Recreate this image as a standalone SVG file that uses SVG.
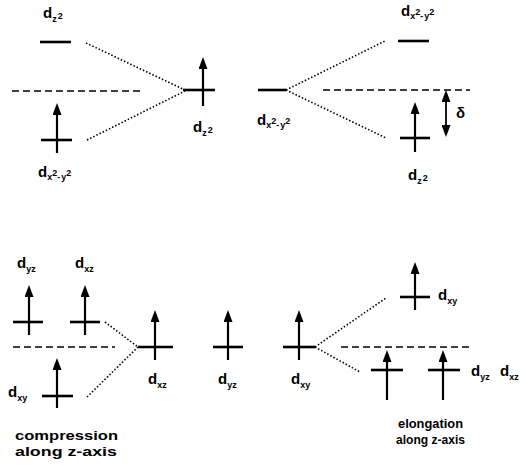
<svg xmlns="http://www.w3.org/2000/svg" width="526" height="476" viewBox="0 0 526 476">
<style>
.lv{stroke:#000;stroke-width:2.6;fill:none}
.ar{stroke:#000;stroke-width:2.2;fill:none;marker-end:url(#ah)}
.da{stroke:#000;stroke-width:1.6;stroke-dasharray:7 4;fill:none}
.dt{stroke:#000;stroke-width:1.6;stroke-dasharray:1.5 2;fill:none}
.d{font-family:"Liberation Sans",Arial,sans-serif;font-weight:bold;font-size:15px;fill:#000}
.s{font-size:9px}
.cap{font-family:"Liberation Sans",Arial,sans-serif;font-weight:bold;fill:#000}
</style>
<defs>
<marker id="ah" viewBox="0 0 12 9" refX="8" refY="4.5" markerWidth="12" markerHeight="9" markerUnits="userSpaceOnUse" orient="auto-start-reverse">
<path d="M0,0 L12,4.5 L0,9 z" fill="#000"/>
</marker>
</defs>

<g id="connectors">
<line class="da" x1="12" y1="91" x2="143" y2="91"/>
<line class="dt" x1="86" y1="43" x2="185" y2="90"/>
<line class="dt" x1="87" y1="140" x2="185" y2="91"/>
<line class="da" x1="323" y1="90" x2="470" y2="90"/>
<line class="dt" x1="286" y1="90" x2="385" y2="41"/>
<line class="dt" x1="286" y1="90" x2="386" y2="138"/>
<line class="da" x1="13" y1="347" x2="115" y2="347"/>
<line class="dt" x1="105" y1="322" x2="138" y2="347"/>
<line class="dt" x1="87" y1="397" x2="138" y2="347"/>
<line class="da" x1="341" y1="347" x2="471" y2="347"/>
<line class="dt" x1="315" y1="347" x2="386" y2="298"/>
<line class="dt" x1="315" y1="347" x2="360" y2="372"/>
</g>

<g id="tl-dz2">
<line class="lv" x1="40" y1="42" x2="71" y2="42"/>
<text class="d" x="43" y="18">d<tspan class="s" dy="4">z</tspan><tspan class="s" dx="1" dy="-3">2</tspan></text>
</g>
<g id="tl-dx2y2">
<line class="lv" x1="41" y1="140" x2="72" y2="140"/>
<line class="ar" x1="57" y1="153" x2="57" y2="107"/>
<text class="d" x="38" y="177">d<tspan class="s" dy="3">x</tspan><tspan class="s" dy="-4">2</tspan><tspan class="s" dy="4">-</tspan><tspan class="s" dx="1">y</tspan><tspan class="s" dy="-4">2</tspan></text>
</g>
<g id="tc-dz2">
<line class="lv" x1="183" y1="90" x2="215" y2="90"/>
<line class="ar" x1="203" y1="106" x2="203" y2="61"/>
<text class="d" x="193" y="132">d<tspan class="s" dy="4">z</tspan><tspan class="s" dx="1" dy="-3">2</tspan></text>
</g>

<g id="tr-center">
<line class="lv" x1="258" y1="90" x2="286" y2="90"/>
<text class="d" x="257" y="125">d<tspan class="s" dy="3">x</tspan><tspan class="s" dy="-4">2</tspan><tspan class="s" dy="4">-</tspan><tspan class="s" dx="1">y</tspan><tspan class="s" dy="-4">2</tspan></text>
</g>
<g id="tr-dx2y2">
<line class="lv" x1="398" y1="41" x2="429" y2="41"/>
<text class="d" x="401" y="16">d<tspan class="s" dy="3">x</tspan><tspan class="s" dy="-4">2</tspan><tspan class="s" dy="4">-</tspan><tspan class="s" dx="1">y</tspan><tspan class="s" dy="-4">2</tspan></text>
</g>
<g id="tr-dz2">
<line class="lv" x1="400" y1="138" x2="430" y2="138"/>
<line class="ar" x1="415" y1="152" x2="415" y2="106"/>
<text class="d" x="408" y="180">d<tspan class="s" dy="4">z</tspan><tspan class="s" dx="1" dy="-3">2</tspan></text>
</g>
<g id="delta">
<line x1="446" y1="94" x2="446" y2="133" stroke="#000" stroke-width="1.8" marker-start="url(#ah)" marker-end="url(#ah)"/>
<text class="d" x="456" y="118" font-size="15">δ</text>
</g>

<g id="bl-dyz">
<line class="lv" x1="13" y1="322" x2="43" y2="322"/>
<line class="ar" x1="29" y1="335" x2="29" y2="289"/>
<text class="d" x="17" y="268">d<tspan class="s" dy="4">yz</tspan></text>
</g>
<g id="bl-dxz">
<line class="lv" x1="70" y1="322" x2="100" y2="322"/>
<line class="ar" x1="85" y1="335" x2="85" y2="289"/>
<text class="d" x="75" y="268">d<tspan class="s" dy="4">xz</tspan></text>
</g>
<g id="bl-dxy">
<line class="lv" x1="42" y1="396" x2="73" y2="396"/>
<line class="ar" x1="57" y1="408" x2="57" y2="362"/>
<text class="d" x="8" y="397">d<tspan class="s" dy="4">xy</tspan></text>
</g>
<g id="bc-dxz">
<line class="lv" x1="138" y1="347" x2="173" y2="347"/>
<line class="ar" x1="155" y1="360" x2="155" y2="314"/>
<text class="d" x="148" y="384">d<tspan class="s" dy="4">xz</tspan></text>
</g>
<g id="bc-dyz">
<line class="lv" x1="213" y1="347" x2="243" y2="347"/>
<line class="ar" x1="228" y1="360" x2="228" y2="314"/>
<text class="d" x="218" y="384">d<tspan class="s" dy="4">yz</tspan></text>
</g>
<g id="bc-dxy">
<line class="lv" x1="283" y1="347" x2="315" y2="347"/>
<line class="ar" x1="299" y1="360" x2="299" y2="314"/>
<text class="d" x="291" y="384">d<tspan class="s" dy="4">xy</tspan></text>
</g>
<g id="br-dxy">
<line class="lv" x1="400" y1="297" x2="430" y2="297"/>
<line class="ar" x1="415" y1="310" x2="415" y2="266"/>
<text class="d" x="438" y="300">d<tspan class="s" dy="4">xy</tspan></text>
</g>
<g id="br-dyz">
<line class="lv" x1="371" y1="370" x2="403" y2="370"/>
<line class="ar" x1="387" y1="400" x2="387" y2="354"/>
<text class="d" x="471" y="376">d<tspan class="s" dy="4">yz</tspan></text>
</g>
<g id="br-dxz">
<line class="lv" x1="428" y1="370" x2="460" y2="370"/>
<line class="ar" x1="443" y1="400" x2="443" y2="354"/>
<text class="d" x="500" y="376">d<tspan class="s" dy="4">xz</tspan></text>
</g>

<g id="captions">
<text class="cap" x="15" y="440" font-size="13.5" textLength="103" lengthAdjust="spacingAndGlyphs">compression</text>
<text class="cap" x="15" y="456" font-size="13.5" textLength="102" lengthAdjust="spacingAndGlyphs">along z-axis</text>
<text class="cap" x="398" y="428" font-size="12.5" textLength="65" lengthAdjust="spacingAndGlyphs">elongation</text>
<text class="cap" x="396" y="444" font-size="12.5" textLength="69" lengthAdjust="spacingAndGlyphs">along z-axis</text>
</g>
</svg>
